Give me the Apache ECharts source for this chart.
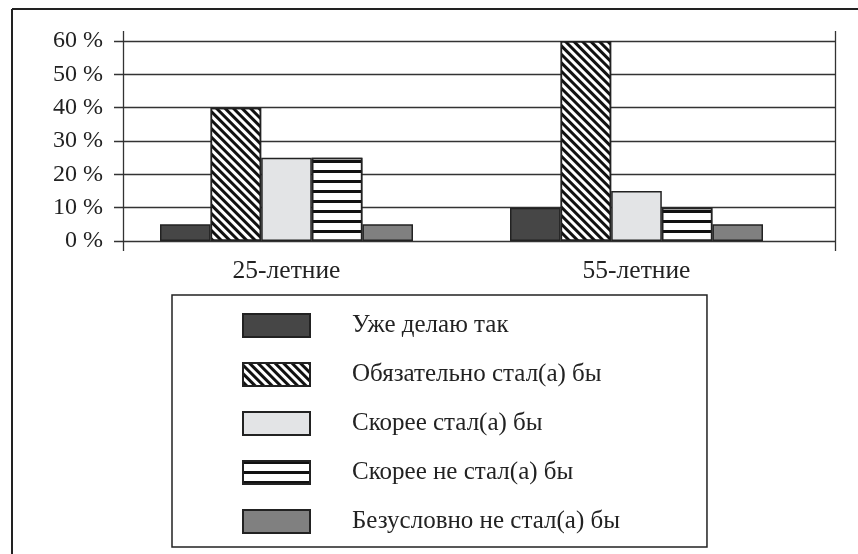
<!DOCTYPE html>
<html>
<head>
<meta charset="utf-8">
<script src="https://cdn.jsdelivr.net/npm/echarts@6/dist/echarts.min.js"></script>
<style>
html,body{margin:0;padding:0;background:#fff;}
#chart{width:858px;height:554px;}
</style>
</head>
<body>
<div id="chart"></div>
<script>
const categories = ['25-летние', '55-летние'];
const seriesNames = ['Уже делаю так', 'Обязательно стал(а) бы', 'Скорее стал(а) бы', 'Скорее не стал(а) бы', 'Безусловно не стал(а) бы'];
const alreadyDo = [5, 10];
const definitelyWould = [40, 60];
const ratherWould = [25, 15];
const ratherWouldNot = [25, 10];
const definitelyWouldNot = [5, 5];
const yTicks = [0, 10, 20, 30, 40, 50, 60];

const FONT = 'Liberation Serif';
const INK = '#222';

const seriesData = [alreadyDo, definitelyWould, ratherWould, ratherWouldNot, definitelyWouldNot];
const fills = ['#464646', '#ffffff', '#e3e4e6', '#ffffff', '#808080'];
const decals = [
  null,
  { symbol: 'rect', symbolSize: 1, color: '#111', dashArrayX: [1, 0], dashArrayY: [2.3, 2.2], rotation: Math.PI / 4 },
  null,
  { symbol: 'rect', symbolSize: 1, color: '#111', dashArrayX: [1, 0], dashArrayY: [2.6, 6.4], rotation: 0 },
  null
];

const series = seriesNames.map((name, i) => {
  const itemStyle = { color: fills[i], borderColor: INK, borderWidth: 1.5 };
  if (decals[i]) itemStyle.decal = decals[i];
  return {
    name: name,
    type: 'bar',
    xAxisIndex: 2,
    yAxisIndex: 2,
    data: seriesData[i],
    barWidth: 50.6,
    barGap: '0%',
    itemStyle: itemStyle,
    emphasis: { disabled: true },
    animation: false
  };
});

const chart = echarts.init(document.getElementById('chart'), null, { renderer: 'canvas' });
chart.setOption({
  backgroundColor: '#fff',
  animation: false,
  graphic: [
    { type: 'line', shape: { x1: 12, y1: 9, x2: 858, y2: 9 }, style: { stroke: INK, lineWidth: 2 } },
    { type: 'line', shape: { x1: 12, y1: 9, x2: 12, y2: 554 }, style: { stroke: INK, lineWidth: 2 } }
  ],
  grid: [
    { left: 114, right: 23, top: 41, bottom: 313 },
    { left: 123, right: 23, top: 31, bottom: 303 },
    { left: 111.5, right: 46.5, top: 41, bottom: 313 }
  ],
  xAxis: [
    { gridIndex: 0, type: 'value', show: false },
    {
      gridIndex: 1, type: 'value', min: 0, max: 1, interval: 1,
      axisLine: { show: false }, axisTick: { show: false }, axisLabel: { show: false },
      splitLine: { show: true, lineStyle: { color: '#333', width: 1.3 } }
    },
    {
      gridIndex: 2, type: 'category', data: categories,
      axisLine: { show: false }, axisTick: { show: false },
      axisLabel: { fontFamily: FONT, fontSize: 25.5, color: INK, margin: 17 }
    }
  ],
  yAxis: [
    {
      gridIndex: 0, type: 'value', min: yTicks[0], max: yTicks[yTicks.length - 1], interval: 10,
      axisLine: { show: false }, axisTick: { show: false },
      axisLabel: { fontFamily: FONT, fontSize: 24, color: INK, margin: 11, formatter: '{value} %' },
      splitLine: { show: true, lineStyle: { color: '#333', width: 1.3 } }
    },
    { gridIndex: 1, type: 'value', show: false, splitLine: { show: false } },
    { gridIndex: 2, type: 'value', min: 0, max: 60, show: false, splitLine: { show: false } }
  ],
  legend: {
    orient: 'vertical',
    left: 172,
    top: 295,
    padding: [18, 87, 13, 70],
    borderColor: INK,
    borderWidth: 1.5,
    itemWidth: 67,
    itemHeight: 23,
    itemGap: 24,
    icon: 'rect',
    selectedMode: false,
    textStyle: { fontFamily: FONT, fontSize: 25, color: INK, padding: [0, 0, 0, 37] },
    data: seriesNames
  },
  series: series
});
</script>
</body>
</html>
